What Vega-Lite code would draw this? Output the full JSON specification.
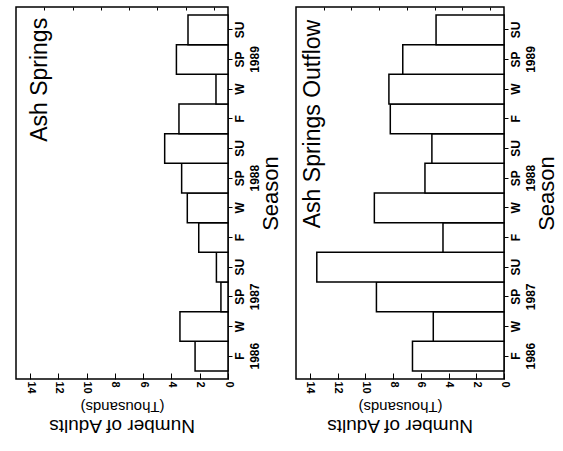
{
  "$schema": "https://vega.github.io/schema/vega-lite/v6.json",
  "background": "white",
  "padding": {"left": 15, "top": 5, "right": 0, "bottom": 0},
  "config": {
    "font": "Liberation Sans",
    "view": {"stroke": "black", "strokeWidth": 1.5},
    "axis": {"labelColor": "black", "titleColor": "black", "tickColor": "black", "grid": false, "domain": false, "labelOverlap": false}
  },
  "datasets": {
    "adults": [
      {"site": "Ash Springs", "period": "F 1986", "adults": 2.33},
      {"site": "Ash Springs", "period": "W 1986", "adults": 3.4},
      {"site": "Ash Springs", "period": "SP 1987", "adults": 0.5},
      {"site": "Ash Springs", "period": "SU 1987", "adults": 0.82},
      {"site": "Ash Springs", "period": "F 1987", "adults": 2.07},
      {"site": "Ash Springs", "period": "W 1987", "adults": 2.88},
      {"site": "Ash Springs", "period": "SP 1988", "adults": 3.28},
      {"site": "Ash Springs", "period": "SU 1988", "adults": 4.48},
      {"site": "Ash Springs", "period": "F 1988", "adults": 3.47},
      {"site": "Ash Springs", "period": "W 1988", "adults": 0.85},
      {"site": "Ash Springs", "period": "SP 1989", "adults": 3.65},
      {"site": "Ash Springs", "period": "SU 1989", "adults": 2.83},
      {"site": "Ash Springs Outflow", "period": "F 1986", "adults": 6.6},
      {"site": "Ash Springs Outflow", "period": "W 1986", "adults": 5.1},
      {"site": "Ash Springs Outflow", "period": "SP 1987", "adults": 9.2},
      {"site": "Ash Springs Outflow", "period": "SU 1987", "adults": 13.5},
      {"site": "Ash Springs Outflow", "period": "F 1987", "adults": 4.4},
      {"site": "Ash Springs Outflow", "period": "W 1987", "adults": 9.35},
      {"site": "Ash Springs Outflow", "period": "SP 1988", "adults": 5.7},
      {"site": "Ash Springs Outflow", "period": "SU 1988", "adults": 5.2},
      {"site": "Ash Springs Outflow", "period": "F 1988", "adults": 8.2},
      {"site": "Ash Springs Outflow", "period": "W 1988", "adults": 8.3},
      {"site": "Ash Springs Outflow", "period": "SP 1989", "adults": 7.3},
      {"site": "Ash Springs Outflow", "period": "SU 1989", "adults": 4.9}
    ]
  },
  "bounds": "flush",
  "spacing": 68,
  "hconcat": [
    {
      "width": 212,
      "height": 372,
      "title": {"text": "Number of Adults", "orient": "bottom", "angle": 180, "baseline": "bottom", "fontSize": 19, "fontWeight": "normal", "offset": 3, "color": "black"},
      "resolve": {"axis": {"x": "independent"}},
      "layer": [
        {
          "data": {"name": "adults"},
          "transform": [{"filter": "datum.site == 'Ash Springs'"}],
          "mark": {"type": "bar", "fill": "white", "stroke": "black", "strokeWidth": 1.5},
          "encoding": {
            "y": {
              "field": "period", "type": "nominal",
              "sort": ["SU 1989", "SP 1989", "W 1988", "F 1988", "SU 1988", "SP 1988", "W 1987", "F 1987", "SU 1987", "SP 1987", "W 1986", "F 1986"],
              "scale": {"paddingInner": 0, "paddingOuter": 0.27},
              "axis": {
                "orient": "right", "title": "Season", "titleAngle": 270, "titleBaseline": "top", "titleFontSize": 22, "titleFontWeight": "normal", "titlePadding": 0,
                "labelAngle": 270, "labelAlign": "center", "labelBaseline": "top", "labelFontSize": 12, "labelFontWeight": "bold", "labelLineHeight": 15, "labelPadding": 2, "tickSize": 4,
                "labelExpr": "datum.value == 'F 1986' ? ['F', '1986'] : (indexof(datum.value, 'SP') == 0 ? ['SP', '\u00a0\u00a0\u00a0\u00a0\u00a0\u00a0\u00a0\u00a0\u00a0' + slice(datum.value, 3)] : split(datum.value, ' ')[0])"
              }
            },
            "x": {
              "field": "adults", "type": "quantitative",
              "scale": {"domain": [0, 15], "reverse": true, "nice": false},
              "axis": {
                "values": [0, 2, 4, 6, 8, 10, 12, 14],
                "labelAngle": 90, "labelAlign": "left", "labelBaseline": "middle", "labelFontSize": 11, "labelFontWeight": "bold", "labelPadding": 8,
                "labelFlush": false, "labelOverlap": false,
                "tickSize": -6,
                "title": "(Thousands)", "titleAngle": 180, "titleBaseline": "bottom", "titleFontSize": 15, "titleFontWeight": "normal", "titlePadding": 5
              }
            }
          }
        },
        {
          "data": {"values": [{"t": "Ash Springs"}]},
          "mark": {"type": "text", "angle": 270, "align": "right", "baseline": "middle", "fontSize": 23, "dx": 12, "color": "black"},
          "encoding": {
            "text": {"field": "t"},
            "x": {"datum": 13.3, "type": "quantitative", "axis": {"values": [1, 3, 5, 7, 9, 11, 13], "labels": false, "tickSize": -3, "title": null}},
            "y": {"datum": "SU 1989", "type": "nominal"}
          }
        }
      ]
    },
    {
      "width": 208,
      "height": 372,
      "title": {"text": "Number of Adults", "orient": "bottom", "angle": 180, "baseline": "bottom", "fontSize": 19, "fontWeight": "normal", "offset": 3, "color": "black"},
      "resolve": {"axis": {"x": "independent"}},
      "layer": [
        {
          "data": {"name": "adults"},
          "transform": [{"filter": "datum.site == 'Ash Springs Outflow'"}],
          "mark": {"type": "bar", "fill": "white", "stroke": "black", "strokeWidth": 1.5},
          "encoding": {
            "y": {
              "field": "period", "type": "nominal",
              "sort": ["SU 1989", "SP 1989", "W 1988", "F 1988", "SU 1988", "SP 1988", "W 1987", "F 1987", "SU 1987", "SP 1987", "W 1986", "F 1986"],
              "scale": {"paddingInner": 0, "paddingOuter": 0.27},
              "axis": {
                "orient": "right", "title": "Season", "titleAngle": 270, "titleBaseline": "top", "titleFontSize": 22, "titleFontWeight": "normal", "titlePadding": 0,
                "labelAngle": 270, "labelAlign": "center", "labelBaseline": "top", "labelFontSize": 12, "labelFontWeight": "bold", "labelLineHeight": 15, "labelPadding": 2, "tickSize": 4,
                "labelExpr": "datum.value == 'F 1986' ? ['F', '1986'] : (indexof(datum.value, 'SP') == 0 ? ['SP', '\u00a0\u00a0\u00a0\u00a0\u00a0\u00a0\u00a0\u00a0\u00a0' + slice(datum.value, 3)] : split(datum.value, ' ')[0])"
              }
            },
            "x": {
              "field": "adults", "type": "quantitative",
              "scale": {"domain": [0, 15], "reverse": true, "nice": false},
              "axis": {
                "values": [0, 2, 4, 6, 8, 10, 12, 14],
                "labelAngle": 90, "labelAlign": "left", "labelBaseline": "middle", "labelFontSize": 11, "labelFontWeight": "bold", "labelPadding": 8,
                "labelFlush": false, "labelOverlap": false,
                "tickSize": -6,
                "title": "(Thousands)", "titleAngle": 180, "titleBaseline": "bottom", "titleFontSize": 15, "titleFontWeight": "normal", "titlePadding": 5
              }
            }
          }
        },
        {
          "data": {"values": [{"t": "Ash Springs Outflow"}]},
          "mark": {"type": "text", "angle": 270, "align": "right", "baseline": "middle", "fontSize": 23, "dx": 10, "color": "black"},
          "encoding": {
            "text": {"field": "t"},
            "x": {"datum": 13.8, "type": "quantitative", "axis": {"values": [1, 3, 5, 7, 9, 11, 13], "labels": false, "tickSize": -3, "title": null}},
            "y": {"datum": "SU 1989", "type": "nominal"}
          }
        }
      ]
    }
  ]
}
